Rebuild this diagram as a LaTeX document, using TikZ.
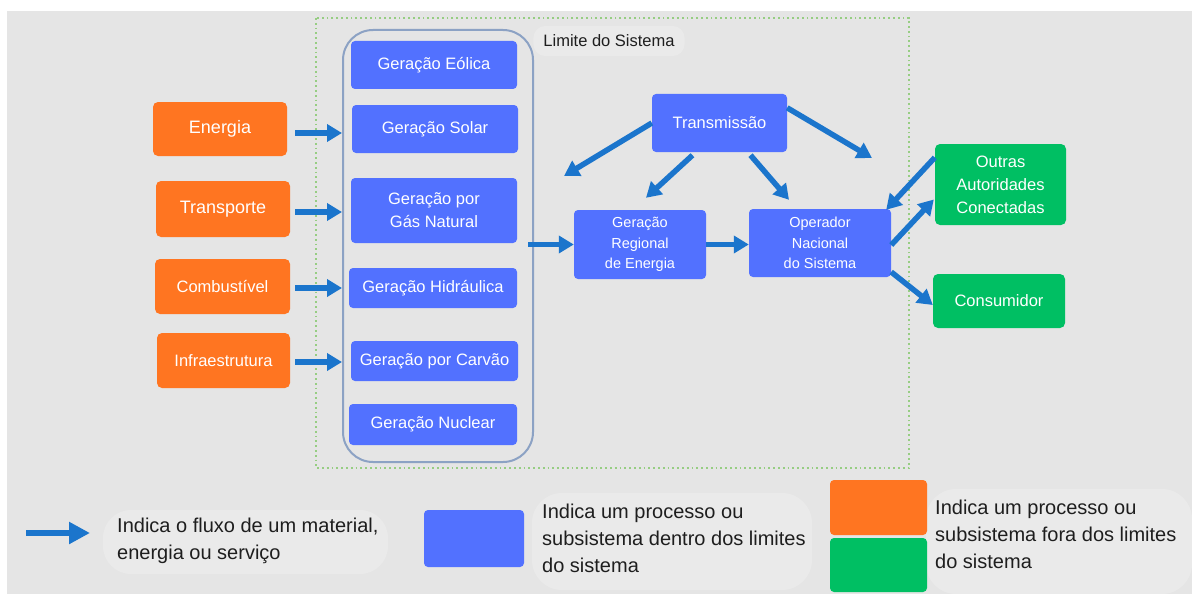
\documentclass[tikz,border=0pt]{standalone}
\usepackage{fontspec}
\setmainfont{Liberation Sans}
\usetikzlibrary{arrows.meta}

\definecolor{procblue}{RGB}{82,113,255}
\definecolor{extorange}{RGB}{255,117,33}
\definecolor{extgreen}{RGB}{0,191,99}
\definecolor{flowblue}{RGB}{27,117,204}
\definecolor{bggray}{RGB}{229,229,229}
\definecolor{bubblegray}{RGB}{234,234,234}
\definecolor{contline}{RGB}{140,162,196}
\definecolor{limgreen}{RGB}{150,205,130}
\definecolor{keyink}{RGB}{30,30,30}

\tikzset{
    proc/.style={fill=procblue, rounded corners=4pt, text=white, align=center, inner sep=0pt,
        font=\fontsize{16.5}{23}\selectfont},
    procsmall/.style={proc, font=\fontsize{14.5}{20.5}\selectfont},
    outside/.style={rounded corners=5pt, text=white, align=center, inner sep=0pt,
        font=\fontsize{16.5}{23}\selectfont},
    flow/.style={draw=flowblue, line width=5.5pt, -{Triangle[length=15pt,width=17pt]}},
    flowkey/.style={flow, -{Triangle[length=21pt,width=21pt]}},
    keytext/.style={anchor=west, inner sep=0pt, align=left, text=keyink,
        font=\fontsize{20}{27}\selectfont},
    bubble/.style={fill=bubblegray, rounded corners=24pt}
}

\begin{document}
\begin{tikzpicture}[x=1pt,y=-1pt]
        \fill[white] (0,0) rectangle (1192,594);
        \fill[bggray] (7,11) rectangle (1192,594);
        \useasboundingbox (0,0) rectangle (1192,594);
        \draw[limgreen, line width=1.6pt, dash pattern=on 1.8pt off 3pt] (316,18) rectangle (909,468);
        \node[fill=bubblegray, rounded corners=12pt, inner xsep=10pt, inner ysep=9pt, text=keyink,
            font=\fontsize{16.5}{20}\selectfont] (limite) at (609,41) {Limite do Sistema};
        \node[draw=contline, line width=2pt, rounded corners=30pt, inner sep=0pt,
            minimum width=190pt, minimum height=432pt] (cont) at (438,246) {};

        \node[proc, minimum width=166pt, minimum height=48pt] (eolica) at (434,65) {Geração Eólica};
        \node[proc, minimum width=166pt, minimum height=48pt] (solar) at (435,129) {Geração Solar};
        \node[proc, minimum width=166pt, minimum height=65pt] (gas) at (434,210.5) {Geração por\\Gás Natural};
        \node[proc, minimum width=168pt, minimum height=40pt] (hidro) at (433,288) {Geração Hidráulica};
        \node[proc, minimum width=167pt, minimum height=40pt] (carvao) at (434.5,361) {Geração por Carvão};
        \node[proc, minimum width=168pt, minimum height=41pt] (nuclear) at (433,424.5) {Geração Nuclear};

        \node[outside, fill=extorange, minimum width=134pt, minimum height=54pt,
            font=\fontsize{18}{22}\selectfont] (energia) at (220,129) {Energia};
        \node[outside, fill=extorange, minimum width=134pt, minimum height=56pt,
            font=\fontsize{18}{22}\selectfont] (transporte) at (223,209) {Transporte};
        \node[outside, fill=extorange, minimum width=135pt, minimum height=55pt] (combust) at (222.5,286.5) {Combustível};
        \node[outside, fill=extorange, minimum width=133pt, minimum height=55pt] (infra) at (223.5,360.5) {Infraestrutura};

        \node[proc, minimum width=135pt, minimum height=58pt] (trans) at (719.5,123) {Transmissão};
        \node[procsmall, minimum width=132pt, minimum height=69pt] (regional) at (640,244.5) {Geração\\Regional\\de Energia};
        \node[procsmall, minimum width=142pt, minimum height=68pt] (operador) at (820,243) {Operador\\Nacional\\do Sistema};
        \node[outside, fill=extgreen, minimum width=131pt, minimum height=81pt] (outras) at (1000.5,184.5) {Outras\\Autoridades\\Conectadas};
        \node[outside, fill=extgreen, minimum width=132pt, minimum height=54pt] (consumidor) at (999,301) {Consumidor};

        \draw[flow] ([xshift=8pt,yshift=-4pt]energia.east) -- ([yshift=-4pt]energia.east -| cont.west);
        \draw[flow] ([xshift=5pt,yshift=-3pt]transporte.east) -- ([yshift=-3pt]transporte.east -| cont.west);
        \draw[flow] ([xshift=5pt,yshift=-1.5pt]combust.east) -- ([yshift=-1.5pt]combust.east -| cont.west);
        \draw[flow] ([xshift=5pt,yshift=-1.5pt]infra.east) -- ([yshift=-1.5pt]infra.east -| cont.west);
        \draw[flow] ([xshift=-6pt]cont.east |- regional.west) -- (regional.west);
        \draw[flow] (regional.east) -- (regional.east -| operador.west);

        \coordinate (transleft) at (564,176);
        \coordinate (transright) at (872,158);
        \draw[flow] (trans.west) -- (transleft);
        \draw[flow] ([yshift=-14pt]trans.north east) -- (transright);
        \draw[flow] ([xshift=-27pt,yshift=-3pt]trans.south) -- ([xshift=6pt,yshift=12pt]regional.north);
        \draw[flow] ([xshift=31pt,yshift=-3pt]trans.south) -- ([xshift=-31pt,yshift=9pt]operador.north);
        \draw[flow] ([yshift=27pt]outras.west) -- ([xshift=-5pt,yshift=-1pt]operador.north east);
        \draw[flow] ([yshift=-2pt]operador.east) -- ([xshift=-1pt,yshift=-15pt]outras.west);
        \draw[flow] ([yshift=-29pt]operador.east) -- ([yshift=-4pt]consumidor.west);

        \fill[bubblegray, rounded corners=28pt] (103,510) rectangle (388,574);
        \fill[bubblegray, rounded corners=30pt] (532,493) rectangle (812,590);
        \fill[bubblegray, rounded corners=30pt] (926,489) rectangle (1192,594);
        \coordinate (keytail) at (26,533);
        \coordinate (keyhead) at (90,533);
        \draw[flowkey] (keytail) -- (keyhead);
        \node[keytext] (keyflow) at (117,541) {Indica o fluxo de um material,\\energia ou serviço};
        \node[fill=procblue, rounded corners=4pt, minimum width=100pt, minimum height=57pt,
            inner sep=0pt] (keyin) at (474,538.5) {};
        \node[keytext] (keyintext) at (542,538.5) {Indica um processo ou\\subsistema dentro dos limites\\do sistema};
        \node[fill=extorange, rounded corners=4pt, minimum width=97pt, minimum height=55pt,
            inner sep=0pt] (keyorange) at (878.5,507.5) {};
        \node[fill=extgreen, rounded corners=4pt, minimum width=97pt, minimum height=54pt,
            inner sep=0pt] (keygreen) at (878.5,565) {};
        \node[keytext] (keyouttext) at (935,534.5) {Indica um processo ou\\subsistema fora dos limites\\do sistema};
    \end{tikzpicture}
\end{document}
